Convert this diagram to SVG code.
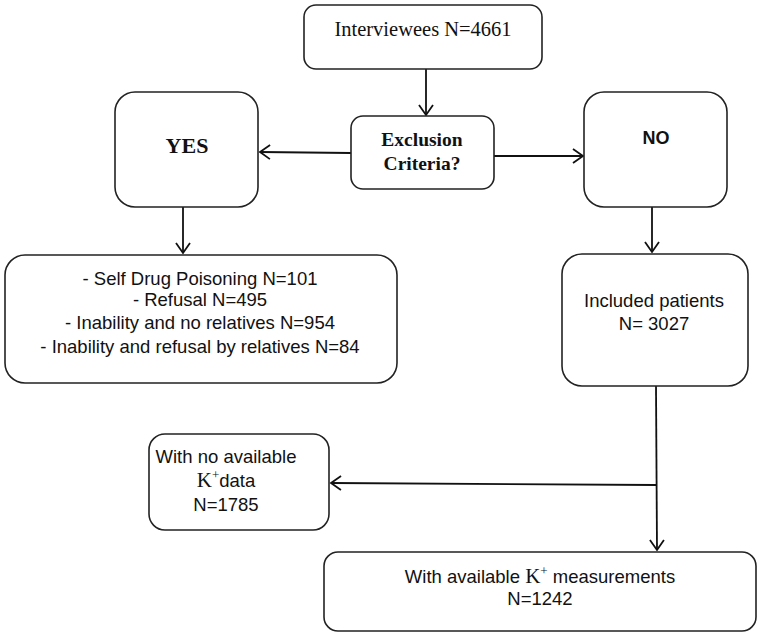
<svg xmlns="http://www.w3.org/2000/svg" width="760" height="635" viewBox="0 0 760 635">
<defs>
<style>
.box{fill:#fff;stroke:#222;stroke-width:1.6}
.ln{fill:none;stroke:#111;stroke-width:1.8;marker-end:url(#ah)}
.serif{font-family:"Liberation Serif","Times New Roman",serif;fill:#111}
.sans{font-family:"Liberation Sans",Arial,sans-serif;fill:#111}
</style>
<marker id="ah" markerUnits="userSpaceOnUse" markerWidth="14" markerHeight="16" refX="11" refY="8" orient="auto">
<path d="M1,1 L11,8 L1,15" fill="none" stroke="#111" stroke-width="1.8"/>
</marker>
</defs>
<rect width="760" height="635" fill="#fff"/>
<g id="connectors">
<line class="ln" x1="426" y1="69" x2="426" y2="115"/>
<line class="ln" x1="351" y1="153" x2="260" y2="152"/>
<line class="ln" x1="494" y1="156" x2="583" y2="156"/>
<line class="ln" x1="183" y1="207" x2="183" y2="253"/>
<line class="ln" x1="652" y1="207" x2="652" y2="252"/>
<line class="ln" x1="656" y1="386" x2="657" y2="550"/>
<line class="ln" x1="656" y1="485" x2="331" y2="483"/>
</g>
<g id="interviewees">
<rect class="box" x="304" y="5" width="238" height="64" rx="12"/>
<text class="serif" x="423" y="36" font-size="20.5" text-anchor="middle">Interviewees N=4661</text>
</g>
<g id="exclusion">
<rect class="box" x="351" y="116" width="143" height="73" rx="12"/>
<text class="serif" x="422" y="146" font-size="19.5" font-weight="bold" text-anchor="middle">Exclusion</text>
<text class="serif" x="422" y="170" font-size="19.5" font-weight="bold" text-anchor="middle">Criteria?</text>
</g>
<g id="yes">
<rect class="box" x="115" y="92" width="143" height="115" rx="20"/>
<text class="serif" x="187" y="153" font-size="22" font-weight="bold" text-anchor="middle">YES</text>
</g>
<g id="no">
<rect class="box" x="584" y="92" width="143" height="115" rx="20"/>
<text class="sans" x="656" y="144" font-size="18" font-weight="bold" text-anchor="middle">NO</text>
</g>
<g id="excluded">
<rect class="box" x="5" y="255" width="392" height="128" rx="20"/>
<g class="sans" font-size="18.5" text-anchor="middle">
<text x="200" y="285">- Self Drug Poisoning N=101</text>
<text x="200" y="306">- Refusal N=495</text>
<text x="200" y="329">- Inability and no relatives N=954</text>
<text x="200" y="353">- Inability and refusal by relatives N=84</text>
</g>
</g>
<g id="included">
<rect class="box" x="562" y="254" width="186" height="132" rx="20"/>
<text class="sans" x="654" y="307" font-size="18.5" text-anchor="middle">Included patients</text>
<text class="sans" x="654" y="330" font-size="18.5" text-anchor="middle">N= 3027</text>
</g>
<g id="nodata">
<rect class="box" x="149" y="434" width="180" height="96" rx="16"/>
<text class="sans" x="226" y="463" font-size="18.5" text-anchor="middle">With no available</text>
<text class="sans" x="226" y="487" font-size="18.5" text-anchor="middle"><tspan class="serif" font-size="21">K</tspan><tspan class="serif" font-size="13" dy="-8">+</tspan><tspan dy="8">data</tspan></text>
<text class="sans" x="226" y="511" font-size="18.5" text-anchor="middle">N=1785</text>
</g>
<g id="available">
<rect class="box" x="324" y="552" width="432" height="79" rx="14"/>
<text class="sans" x="540" y="583" font-size="18.5" text-anchor="middle">With available <tspan class="serif" font-size="21">K</tspan><tspan class="serif" font-size="13" dy="-8">+</tspan><tspan dy="8"> measurements</tspan></text>
<text class="sans" x="540" y="605" font-size="18.5" text-anchor="middle">N=1242</text>
</g>
</svg>
